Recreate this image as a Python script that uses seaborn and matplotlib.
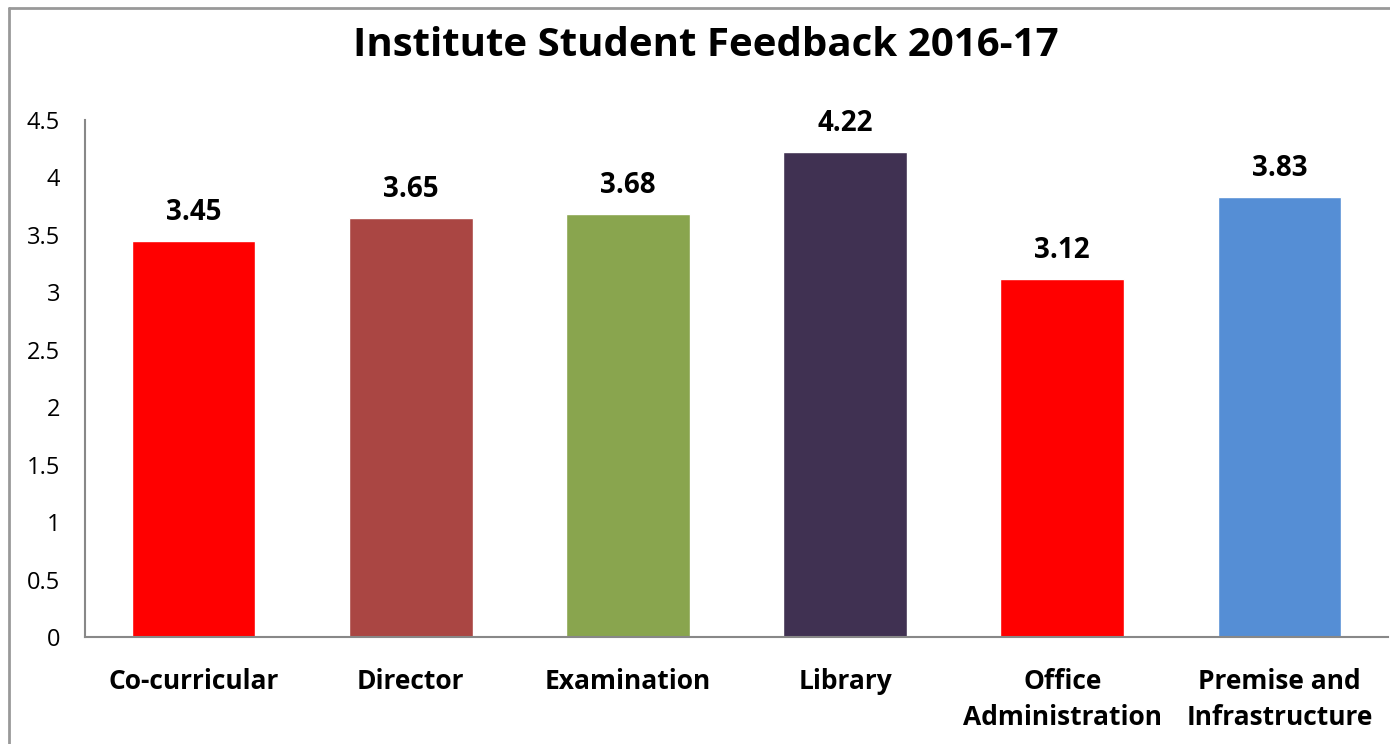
import numpy as np
import pandas as pd
import seaborn as sns
import matplotlib.pyplot as plt
from matplotlib.lines import Line2D

sns.set_style("white")
plt.rcParams["font.family"] = ["Open Sans", "DejaVu Sans"]
plt.rcParams["text.color"] = "black"
plt.rcParams["xtick.color"] = "black"
plt.rcParams["ytick.color"] = "black"

# Feedback data
categories = ["Co-curricular", "Director", "Examination", "Library",
              "Office\nAdministration", "Premise and\nInfrastructure"]
scores = [3.45, 3.65, 3.68, 4.22, 3.12, 3.83]
colors = ["#FF0000", "#AA4643", "#89A54E", "#403152", "#FF0000", "#558ED5"]

df = pd.DataFrame({"Category": categories, "Score": scores})

fig = plt.figure(figsize=(13.9, 7.44), dpi=100)
ax = fig.add_axes([85 / 1390, 1 - 637 / 744, 1303 / 1390, (637 - 120) / 744])

sns.barplot(data=df, x="Category", y="Score", hue="Category", palette=colors,
            width=0.57, legend=False, ax=ax, saturation=1)

ax.set_ylim(0, 4.5)
ax.set_xlim(-0.5, 5.5)
ax.set_yticks(np.arange(0, 4.51, 0.5))
ax.set_yticklabels(["0", "0.5", "1", "1.5", "2", "2.5", "3", "3.5", "4", "4.5"])
ax.tick_params(axis="y", labelsize=17, length=0, pad=18)
ax.tick_params(axis="x", labelsize=19, length=0, pad=22)
for lbl in ax.get_xticklabels():
    lbl.set_fontweight("bold")
    lbl.set_linespacing(1.45)
ax.set_xlabel("")
ax.set_ylabel("")

for side in ["top", "right"]:
    ax.spines[side].set_visible(False)
for side in ["left", "bottom"]:
    ax.spines[side].set_color("#888888")
    ax.spines[side].set_linewidth(1.5)

for i, v in enumerate(scores):
    ax.text(i, v + 0.12, f"{v:.2f}", ha="center", va="bottom",
            fontsize=20, fontweight="bold")

fig.text(706 / 1390, 1 - 46 / 744, "Institute Student Feedback 2016-17",
         ha="center", va="center", fontsize=29, fontweight="bold")

# outer chart border (cropped on right/bottom)
fig.add_artist(Line2D([9 / 1390, 9 / 1390], [0, 1 - 8 / 744],
                      transform=fig.transFigure, color="#999999", lw=2))
fig.add_artist(Line2D([9 / 1390, 1], [1 - 8 / 744, 1 - 8 / 744],
                      transform=fig.transFigure, color="#999999", lw=2))

fig.savefig("out.png", dpi=100)
